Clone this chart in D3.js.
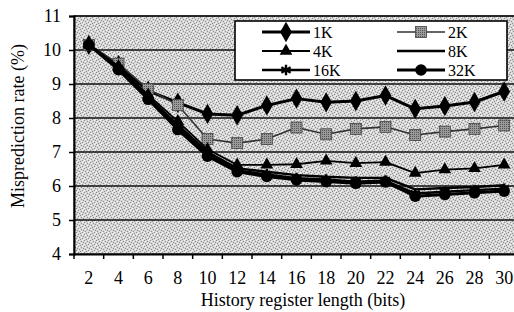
<!DOCTYPE html>
<html>
<head>
<meta charset="utf-8">
<script src="https://cdn.jsdelivr.net/npm/d3@7/dist/d3.min.js"></script>
<style>
  body { margin: 0; background: #fff; }
  svg { display: block; }
  svg text { font-family: "Liberation Serif", "DejaVu Serif", serif; fill: #000; }
</style>
</head>
<body>
<svg id="chart" width="514" height="312"></svg>
<script>
// history register length (bits) on the x axis
var historyBits = ["2", "4", "6", "8", "10", "12", "14", "16", "18", "20", "22", "24", "26", "28", "30"];
var yTicks = [4, 5, 6, 7, 8, 9, 10, 11];

// misprediction rate (%) per table size
var rate1K  = [10.15, 9.55, 8.80, 8.45, 8.12, 8.08, 8.37, 8.57, 8.46, 8.50, 8.66, 8.27, 8.35, 8.47, 8.78];
var rate2K  = [10.15, 9.60, 8.85, 8.38, 7.38, 7.26, 7.38, 7.72, 7.52, 7.68, 7.74, 7.50, 7.60, 7.68, 7.78];
var rate4K  = [10.15, 9.52, 8.68, 7.90, 7.08, 6.62, 6.62, 6.64, 6.74, 6.67, 6.70, 6.38, 6.48, 6.52, 6.62];
var rate8K  = [10.15, 9.50, 8.62, 7.80, 7.00, 6.52, 6.42, 6.32, 6.27, 6.24, 6.24, 5.90, 5.94, 5.97, 6.02];
var rate16K = [10.15, 9.46, 8.58, 7.72, 6.93, 6.46, 6.34, 6.23, 6.19, 6.13, 6.16, 5.78, 5.83, 5.88, 5.92];
var rate32K = [10.15, 9.42, 8.55, 7.66, 6.88, 6.42, 6.28, 6.18, 6.13, 6.08, 6.12, 5.70, 5.75, 5.80, 5.85];

var seriesNames = ["1K", "2K", "4K", "8K", "16K", "32K"];
var seriesValues = [rate1K, rate2K, rate4K, rate8K, rate16K, rate32K];

var svg = d3.select("#chart");
var serif = "'Liberation Serif', 'DejaVu Serif', serif";

// plot box (the right edge runs slightly past the picture, like the scan)
var plotLeft = 74, plotRight = 519, plotTop = 16, plotBottom = 254;

var x = d3.scaleBand().domain(historyBits).range([plotLeft, plotRight]).padding(0);
var y = d3.scaleLinear().domain([4, 11]).range([plotBottom, plotTop]);

// stippled grey background
var defs = svg.append("defs");
var pat = defs.append("pattern")
    .attr("id", "stipple")
    .attr("width", 6).attr("height", 6)
    .attr("patternUnits", "userSpaceOnUse");
pat.append("rect").attr("width", 6).attr("height", 6).attr("fill", "#d6d6d6");
[[0,0],[3,1],[1,3],[4,4],[2,5],[5,2]].forEach(function(p){
    pat.append("rect").attr("x", p[0]).attr("y", p[1]).attr("width", 1).attr("height", 1).attr("fill", "#8c8c8c");
});
[[1,1],[4,0],[0,4],[3,3],[5,5]].forEach(function(p){
    pat.append("rect").attr("x", p[0]).attr("y", p[1]).attr("width", 1).attr("height", 1).attr("fill", "#f4f4f4");
});

// square marker fill for 2K
var pat2 = defs.append("pattern")
    .attr("id", "sq")
    .attr("width", 2).attr("height", 2)
    .attr("patternUnits", "userSpaceOnUse");
pat2.append("rect").attr("width", 2).attr("height", 2).attr("fill", "#9a9a9a");
pat2.append("rect").attr("width", 1).attr("height", 1).attr("fill", "#555");

svg.append("rect")
    .attr("x", plotLeft).attr("y", plotTop)
    .attr("width", plotRight - plotLeft).attr("height", plotBottom - plotTop)
    .attr("fill", "url(#stipple)")
    .attr("stroke", "#222").attr("stroke-width", 1.2);

// horizontal gridlines
svg.append("g").selectAll("line")
    .data(yTicks.slice(1))
    .enter().append("line")
    .attr("x1", plotLeft).attr("x2", plotRight)
    .attr("y1", function(d){ return y(d); })
    .attr("y2", function(d){ return y(d); })
    .attr("stroke", "#111").attr("stroke-width", 1.6);

// y axis
var yAxis = svg.append("g")
    .attr("transform", "translate(" + plotLeft + ",0)")
    .call(d3.axisLeft(y).tickValues(yTicks).tickSize(5).tickPadding(8).tickFormat(d3.format("d")));
yAxis.attr("font-family", serif);
yAxis.select(".domain").attr("stroke", "#000").attr("stroke-width", 2);
yAxis.selectAll(".tick line").attr("stroke", "#000").attr("stroke-width", 1.5);
yAxis.selectAll("text").style("font-size", "18px").style("font-family", serif);

// x axis: labels centred in bands, ticks on band edges
var xAxis = svg.append("g")
    .attr("transform", "translate(0," + plotBottom + ")")
    .call(d3.axisBottom(x).tickSize(0).tickPadding(17));
xAxis.attr("font-family", serif);
xAxis.select(".domain").attr("stroke", "#000").attr("stroke-width", 2.2);
xAxis.selectAll("text").style("font-size", "18px").style("font-family", serif);
svg.append("g").selectAll("line")
    .data(historyBits)
    .enter().append("line")
    .attr("x1", function(d){ return x(d); })
    .attr("x2", function(d){ return x(d); })
    .attr("y1", plotBottom).attr("y2", plotBottom + 5)
    .attr("stroke", "#000").attr("stroke-width", 1.5);

// axis titles
svg.append("text")
    .attr("x", 303).attr("y", 306)
    .attr("text-anchor", "middle")
    .style("font-size", "18px").style("font-family", serif)
    .text("History register length (bits)");
svg.append("text")
    .attr("transform", "translate(24,126) rotate(-90)")
    .attr("text-anchor", "middle")
    .style("font-size", "18px").style("font-family", serif)
    .text("Misprediction rate (%)");

// series styles
var styles = [
    { width: 3,   color: "#000", marker: "diamond"  },
    { width: 1.6, color: "#333", marker: "square"   },
    { width: 1.8, color: "#000", marker: "triangle" },
    { width: 2.4, color: "#000", marker: "none"     },
    { width: 2.4, color: "#000", marker: "asterisk" },
    { width: 3,   color: "#000", marker: "circle"   }
];

function drawMarker(g, kind, cx, cy){
    if (kind == "diamond") {
        g.append("path").attr("d", d3.symbol(d3.symbolDiamond, 120)())
            .attr("transform", "translate(" + cx + "," + cy + ")").attr("fill", "#000");
    } else if (kind == "square") {
        g.append("rect").attr("x", cx - 5.5).attr("y", cy - 5.5)
            .attr("width", 11).attr("height", 11)
            .attr("fill", "url(#sq)").attr("stroke", "#444").attr("stroke-width", 0.8);
    } else if (kind == "triangle") {
        g.append("path").attr("d", d3.symbol(d3.symbolTriangle, 70)())
            .attr("transform", "translate(" + cx + "," + cy + ")").attr("fill", "#000");
    } else if (kind == "asterisk") {
        g.append("path").attr("d", d3.symbol(d3.symbolAsterisk, 80)())
            .attr("transform", "translate(" + cx + "," + cy + ")")
            .attr("fill", "none").attr("stroke", "#000").attr("stroke-width", 2.4);
    } else if (kind == "circle") {
        g.append("circle").attr("cx", cx).attr("cy", cy).attr("r", 5.8).attr("fill", "#000");
    }
}

var line = d3.line()
    .x(function(d, i){ return x(historyBits[i]) + x.bandwidth() / 2; })
    .y(function(d){ return y(d); });

// one group per series, in legend order
var plot = svg.append("g");
seriesValues.forEach(function(vals, k){
    var st = styles[k];
    var g = plot.append("g");
    g.append("path").datum(vals)
        .attr("d", line)
        .attr("fill", "none")
        .attr("stroke", st.color)
        .attr("stroke-width", st.width)
        .attr("stroke-linejoin", "round");
    vals.forEach(function(v, i){
        drawMarker(g, st.marker, x(historyBits[i]) + x.bandwidth() / 2, y(v));
    });
});

// legend
var lg = svg.append("g");
lg.append("rect")
    .attr("x", 235).attr("y", 21).attr("width", 272).attr("height", 59)
    .attr("fill", "#fff").attr("stroke", "#000").attr("stroke-width", 1.6);
seriesNames.forEach(function(name, k){
    var col = k % 2, row = Math.floor(k / 2);
    var x0 = col == 0 ? 262 : 397;
    var yy = 32 + row * 19;
    lg.append("line")
        .attr("x1", x0).attr("x2", x0 + 48)
        .attr("y1", yy).attr("y2", yy)
        .attr("stroke", styles[k].color).attr("stroke-width", styles[k].width);
    drawMarker(lg, styles[k].marker, x0 + 24, yy);
    lg.append("text")
        .attr("x", x0 + 51).attr("y", yy + 5.5)
        .style("font-size", "16px").style("font-family", serif)
        .text(name);
});
</script>
</body>
</html>
